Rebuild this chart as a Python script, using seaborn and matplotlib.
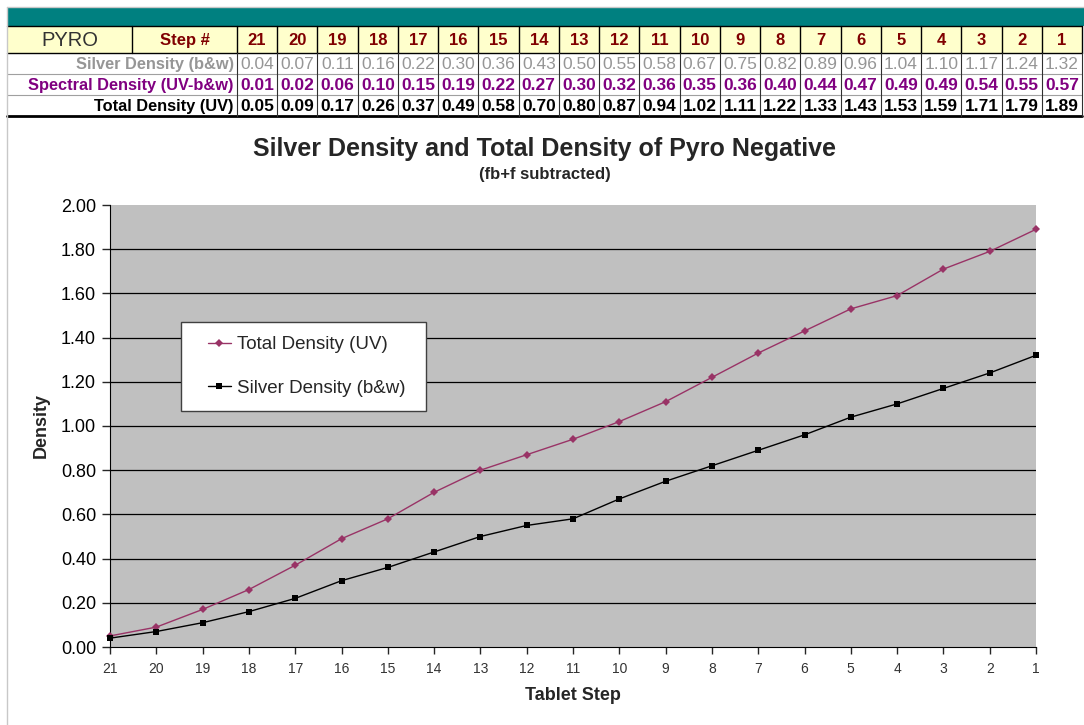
import matplotlib
matplotlib.use("Agg")
import matplotlib.pyplot as plt
from matplotlib.patches import Rectangle
from matplotlib.lines import Line2D
from matplotlib.legend_handler import HandlerLine2D
import seaborn as sns
import pandas as pd
import numpy as np

# ---------------- data ----------------
steps = [21, 20, 19, 18, 17, 16, 15, 14, 13, 12, 11, 10, 9, 8, 7, 6, 5, 4, 3, 2, 1]
silver = [0.04, 0.07, 0.11, 0.16, 0.22, 0.30, 0.36, 0.43, 0.50, 0.55, 0.58,
          0.67, 0.75, 0.82, 0.89, 0.96, 1.04, 1.10, 1.17, 1.24, 1.32]
spectral = [0.01, 0.02, 0.06, 0.10, 0.15, 0.19, 0.22, 0.27, 0.30, 0.32, 0.36,
            0.35, 0.36, 0.40, 0.44, 0.47, 0.49, 0.49, 0.54, 0.55, 0.57]
total = [0.05, 0.09, 0.17, 0.26, 0.37, 0.49, 0.58, 0.70, 0.80, 0.87, 0.94,
         1.02, 1.11, 1.22, 1.33, 1.43, 1.53, 1.59, 1.71, 1.79, 1.89]
row_labels = ["Silver Density (b&w)", "Spectral Density (UV-b&w)", "Total Density (UV)"]
title = "Silver Density and Total Density of Pyro Negative"
subtitle = "(fb+f subtracted)"
yticks = [0.0, 0.2, 0.4, 0.6, 0.8, 1.0, 1.2, 1.4, 1.6, 1.8, 2.0]

sns.set_style("ticks")
plt.rcParams['font.family'] = ['Liberation Sans', 'DejaVu Sans']

W, H = 1084, 725
fig = plt.figure(figsize=(W / 100, H / 100), dpi=100)

# ---------------- table (pixel coordinate overlay) ----------------
tab = fig.add_axes([0, 0, 1, 1])
tab.set_xlim(0, W)
tab.set_ylim(H, 0)
tab.axis("off")

x0 = 7
c1 = 132
c2 = 237
cw = (1082 - c2) / 21
y_teal0, y_head0, y_r1, y_r2, y_r3, y_end = 7, 26, 53, 74, 95, 116

tab.add_patch(Rectangle((x0, y_teal0), W - x0, y_head0 - y_teal0, facecolor="#008080", edgecolor="none"))
tab.add_patch(Rectangle((x0, y_head0), 1082 - x0, y_r1 - y_head0, facecolor="#FFFFCC", edgecolor="none"))
tab.plot([x0, 1082], [y_head0, y_head0], color="black", lw=1)
tab.plot([x0, 1082], [y_r1, y_r1], color="black", lw=1)
tab.plot([x0, 1082], [y_r2, y_r2], color="#A0A0A0", lw=0.8)
tab.plot([x0, 1082], [y_r3, y_r3], color="#A0A0A0", lw=0.8)
tab.plot([x0, 1082], [y_end, y_end], color="black", lw=2)
tab.plot([c1, c1], [y_head0, y_r1], color="black", lw=1)
for i in range(22):
    xv = c2 + i * cw
    tab.plot([xv, xv], [y_head0, y_r1], color="black", lw=1)
    tab.plot([xv, xv], [y_r1, y_end], color="#303030", lw=0.8)
tab.plot([x0, x0], [y_teal0, H], color="#C8C8C8", lw=1)
tab.plot([x0, W], [y_teal0, y_teal0], color="#C8C8C8", lw=1)

ymid_h = (y_head0 + y_r1) / 2
tab.text((x0 + c1) / 2, ymid_h + 1, "PYRO", ha="center", va="center", fontsize=14.5, color="#333333")
tab.text((c1 + c2) / 2, ymid_h + 1, "Step #", ha="center", va="center", fontsize=12,
         fontweight="bold", color="#800000")
row_colors = ["#969696", "#800080", "black"]
row_vals = [silver, spectral, total]
row_weights = ["normal", "bold", "bold"]
row_y = [(y_r1 + y_r2) / 2, (y_r2 + y_r3) / 2, (y_r3 + y_end) / 2]
for r in range(3):
    tab.text(c2 - 3, row_y[r] + 1, row_labels[r], ha="right", va="center", fontsize=11.8,
             fontweight="bold", color=row_colors[r])
for i, s in enumerate(steps):
    xc = c2 + (i + 0.5) * cw
    tab.text(xc, ymid_h + 1, str(s), ha="center", va="center", fontsize=12,
             fontweight="bold", color="#800000")
    for r in range(3):
        tab.text(xc, row_y[r] + 1, f"{row_vals[r][i]:.2f}", ha="center", va="center",
                 fontsize=12.5, fontweight=row_weights[r], color=row_colors[r])

# ---------------- chart ----------------
left, right, top, bottom = 110, 1036, 205, 647
ax = fig.add_axes([left / W, (H - bottom) / H, (right - left) / W, (bottom - top) / H])
ax.set_facecolor("#C0C0C0")

df = pd.DataFrame({"pos": np.arange(len(steps)), "step": steps,
                   "Total": total, "Silver": silver})

sns.lineplot(data=df, x="pos", y="Total", ax=ax, color="#993366", lw=1, marker="D",
             markersize=4.5, markeredgewidth=0, sort=False, clip_on=False, zorder=4)
sns.lineplot(data=df, x="pos", y="Silver", ax=ax, color="black", lw=1, marker="s",
             markersize=5, markeredgewidth=0, sort=False, clip_on=False, zorder=4)

ax.set_xlim(0, len(steps) - 1)
ax.set_ylim(0, 2.0)
ax.set_yticks(yticks)
ax.set_yticklabels([f"{v:.2f}" for v in yticks], fontsize=13, color="black")
ax.set_xticks(df["pos"])
ax.set_xticklabels([str(s) for s in steps], fontsize=10, color="#333333")
for yv in yticks[1:-1]:
    ax.axhline(yv, color="black", lw=0.9, zorder=1)
for sp in ["top", "right"]:
    ax.spines[sp].set_visible(False)
ax.spines["left"].set_color("black")
ax.spines["bottom"].set_color("black")
ax.tick_params(axis="y", direction="out", length=6, width=1, pad=4)
ax.tick_params(axis="x", direction="out", length=5, width=1, pad=6)
ax.set_xlabel("Tablet Step", fontsize=13, fontweight="bold", labelpad=8)
ax.set_ylabel("Density", fontsize=13, fontweight="bold", labelpad=8)

fig.text(0.5025, (H - 149) / H, title, ha="center", va="center", fontsize=18, fontweight="bold")
fig.text(0.5025, (H - 174) / H, subtitle, ha="center", va="center", fontsize=12, fontweight="bold")


class OffsetLineHandler(HandlerLine2D):
    """Draws the legend line only in the right part of the handle box."""
    def create_artists(self, legend, orig_handle, xdescent, ydescent, width, height, fontsize, trans):
        off = width * 0.36
        return super().create_artists(legend, orig_handle, xdescent - off, ydescent,
                                      width - off, height, fontsize, trans)


handles = [Line2D([], [], color="#993366", lw=1, marker="D", markersize=4, markeredgewidth=0),
           Line2D([], [], color="black", lw=1, marker="s", markersize=4, markeredgewidth=0)]
lx = (181 - left) / (right - left)
lw_ = (426 - 181) / (right - left)
ly = (bottom - 322) / (bottom - top)
leg = ax.legend(handles, ["Total Density (UV)", "Silver Density (b&w)"],
                loc="upper left", bbox_to_anchor=(lx, ly, lw_, 0), mode="expand",
                handler_map={Line2D: OffsetLineHandler()},
                fontsize=13.5, frameon=True, fancybox=False, edgecolor="#404040",
                framealpha=1, handlelength=1.9, handletextpad=0.35, labelspacing=1.42,
                borderpad=0.75, borderaxespad=0)
leg.get_frame().set_linewidth(1)

fig.savefig("out.png", dpi=100)
